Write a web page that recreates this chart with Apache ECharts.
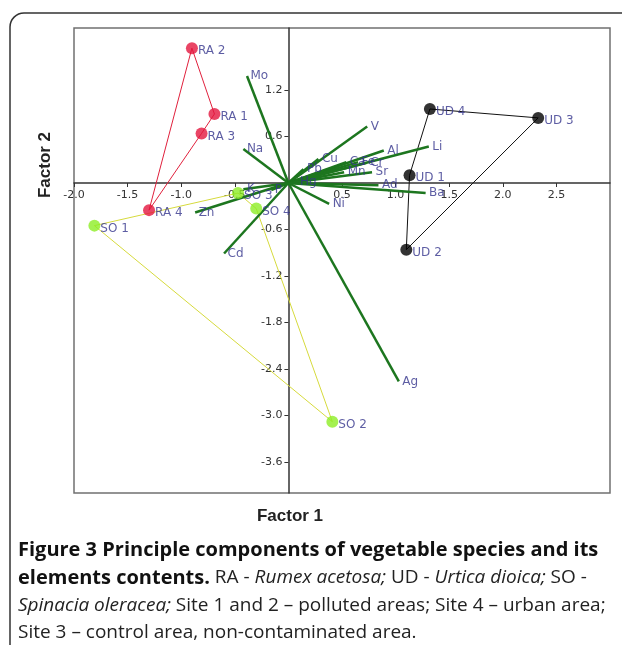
<!DOCTYPE html>
<html lang="en">
<head>
    <meta charset="UTF-8">
    <title>Figure 3</title>
    <script src="https://cdn.jsdelivr.net/npm/echarts@6/dist/echarts.min.js"></script>
    <style>
        html, body { margin: 0; padding: 0; background: #fff; }
        #chart { width: 622px; height: 645px; }
    </style>
</head>
<body>
    <div id="chart"></div>
    <script>
        // sample scores
        var scoreNames = ['RA 1', 'RA 2', 'RA 3', 'RA 4', 'UD 1', 'UD 2', 'UD 3', 'UD 4', 'SO 1', 'SO 2', 'SO 3', 'SO 4'];
        var scoreX = [-0.69, -0.90, -0.81, -1.30, 1.13, 1.10, 2.33, 1.32, -1.81, 0.41, -0.47, -0.30];
        var scoreY = [0.89, 1.74, 0.64, -0.35, 0.10, -0.86, 0.84, 0.955, -0.55, -3.08, -0.13, -0.33];

        // hull outlines per species
        var hullRA = ['RA 2', 'RA 1', 'RA 3', 'RA 4', 'RA 2'];
        var hullUD = ['UD 4', 'UD 3', 'UD 2', 'UD 1', 'UD 4'];
        var hullSO = ['SO 1', 'SO 3', 'SO 4', 'SO 2', 'SO 1'];

        // element loadings
        var elemNames = ['Mo', 'Na', 'Zn', 'Cd', 'K', 'P', 'Hg', 'Pb', 'Cu', 'V', 'Al', 'Li', 'Ca', 'Fe', 'Cr', 'Mn', 'Sr', 'Ad', 'Ba', 'Ni', 'Ag'];
        var elemX = [-0.386, -0.42, -0.87, -0.60, -0.42, -0.16, 0.075, 0.14, 0.28, 0.735, 0.89, 1.31, 0.54, 0.65, 0.73, 0.52, 0.78, 0.84, 1.28, 0.38, 1.03];
        var elemY = [1.38, 0.44, -0.38, -0.91, -0.08, -0.09, 0.01, 0.18, 0.31, 0.73, 0.42, 0.47, 0.27, 0.27, 0.26, 0.14, 0.14, -0.03, -0.13, -0.27, -2.56];

        var xTicks = [-2.0, -1.5, -1.0, -0.5, 0.5, 1.0, 1.5, 2.0, 2.5];
        var yTicks = [1.2, 0.6, -0.6, -1.2, -1.8, -2.4, -3.0, -3.6];

        var labelColor = '#35358c';

        function pt(name) {
            var i = scoreNames.indexOf(name);
            return [scoreX[i], scoreY[i]];
        }

        function hullSeries(list, color) {
            return {
                type: 'line',
                data: list.map(pt),
                symbol: 'none',
                lineStyle: { color: color, width: 1 },
                silent: true,
                z: 2
            };
        }

        function pointColor(name) {
            if (name.indexOf('RA') === 0) return '#e4163e';
            if (name.indexOf('UD') === 0) return '#000';
            return '#8ded25';
        }

        var chart = echarts.init(document.getElementById('chart'));

        // grid: x from 74 to 610 (range -2..3), y from 28 to 493 (range 2..-4)
        // axes are shifted so they cross at the origin, labels follow them
        var option = {
            animation: false,
            grid: {
                left: 74, top: 28, right: 12, bottom: 152,
                show: true,
                borderColor: '#707070',
                borderWidth: 1.5
            },
            xAxis: {
                type: 'value',
                min: -2, max: 3,
                position: 'bottom',
                offset: -310,
                axisLine: { onZero: false, lineStyle: { color: '#333', width: 1.5 } },
                axisTick: { customValues: xTicks, length: 4, lineStyle: { color: '#333' } },
                axisLabel: {
                    customValues: xTicks,
                    margin: 7,
                    color: '#333',
                    fontFamily: 'DejaVu Sans',
                    fontSize: 11,
                    formatter: function (v) { return v.toFixed(1); }
                },
                splitLine: { show: false }
            },
            yAxis: {
                type: 'value',
                min: -4, max: 2,
                position: 'left',
                offset: -214.4,
                axisLine: { onZero: false, lineStyle: { color: '#333', width: 1.5 } },
                axisTick: { customValues: yTicks, length: 4, lineStyle: { color: '#333' } },
                axisLabel: {
                    customValues: yTicks,
                    margin: 6,
                    color: '#333',
                    fontFamily: 'DejaVu Sans',
                    fontSize: 11,
                    formatter: function (v) { return v.toFixed(1); }
                },
                splitLine: { show: false }
            },
            graphic: [
                {
                    type: 'rect',
                    shape: { x: 10, y: 13, width: 650, height: 680, r: 14 },
                    style: { fill: 'none', stroke: '#333', lineWidth: 1.5 },
                    silent: true
                },
                {
                    type: 'text',
                    x: 45, y: 165,
                    rotation: Math.PI / 2,
                    style: {
                        text: 'Factor 2', font: 'bold 17px "Liberation Sans"', fill: '#222',
                        align: 'center', verticalAlign: 'middle'
                    }
                },
                {
                    type: 'text',
                    x: 290, y: 516,
                    style: {
                        text: 'Factor 1', font: 'bold 17px "Liberation Sans"', fill: '#222',
                        align: 'center', verticalAlign: 'middle'
                    }
                },
                {
                    type: 'text',
                    x: 18, y: 550,
                    style: {
                        text: 'Figure 3 Principle components of vegetable species and its',
                        font: 'bold 20px "Open Sans"', fill: '#111', verticalAlign: 'middle'
                    }
                },
                {
                    type: 'text',
                    x: 18, y: 578,
                    style: {
                        text: '{b|elements contents.} RA - {i|Rumex acetosa;} UD - {i|Urtica dioica;} SO -',
                        font: '19px "Open Sans"', fill: '#222', verticalAlign: 'middle',
                        rich: {
                            b: { font: 'bold 20px "Open Sans"', fill: '#111' },
                            i: { font: 'italic 19px "Open Sans"', fill: '#222' }
                        }
                    }
                },
                {
                    type: 'text',
                    x: 18, y: 606,
                    style: {
                        text: '{i|Spinacia oleracea;} Site 1 and 2 \u2013 polluted areas; Site 4 \u2013 urban area;',
                        font: '19px "Open Sans"', fill: '#222', verticalAlign: 'middle',
                        rich: {
                            i: { font: 'italic 19px "Open Sans"', fill: '#222' }
                        }
                    }
                },
                {
                    type: 'text',
                    x: 18, y: 633,
                    style: {
                        text: 'Site 3 \u2013 control area, non-contaminated area.',
                        font: '19px "Open Sans"', fill: '#222', verticalAlign: 'middle'
                    }
                }
            ],
            series: [
                hullSeries(hullRA, '#e0203c'),
                hullSeries(hullUD, '#111'),
                hullSeries(hullSO, '#d6da3c'),
                {
                    type: 'lines',
                    coordinateSystem: 'cartesian2d',
                    data: elemNames.map(function (n, i) {
                        return { coords: [[0, 0], [elemX[i], elemY[i]]] };
                    }),
                    lineStyle: { color: '#1d761f', width: 2.5, opacity: 1 },
                    silent: true,
                    z: 3
                },
                {
                    type: 'scatter',
                    data: elemNames.map(function (n, i) {
                        return { name: n, value: [elemX[i], elemY[i]] };
                    }),
                    symbolSize: 1,
                    itemStyle: { color: 'rgba(0,0,0,0)' },
                    label: {
                        show: true,
                        position: 'right',
                        distance: 3,
                        offset: [0, 4],
                        formatter: '{b}',
                        color: labelColor,
                        fontFamily: 'DejaVu Sans',
                        fontSize: 12
                    },
                    labelLayout: { hideOverlap: false },
                    silent: true,
                    z: 4
                },
                {
                    type: 'scatter',
                    data: scoreNames.map(function (n, i) {
                        return { name: n, value: [scoreX[i], scoreY[i]], itemStyle: { color: pointColor(n) } };
                    }),
                    symbolSize: 12,
                    label: {
                        show: true,
                        position: 'right',
                        distance: 0,
                        offset: [0, 3],
                        formatter: '{b}',
                        color: labelColor,
                        fontFamily: 'DejaVu Sans',
                        fontSize: 12
                    },
                    silent: true,
                    z: 5
                }
            ]
        };
        chart.setOption(option);
    </script>
</body>
</html>
